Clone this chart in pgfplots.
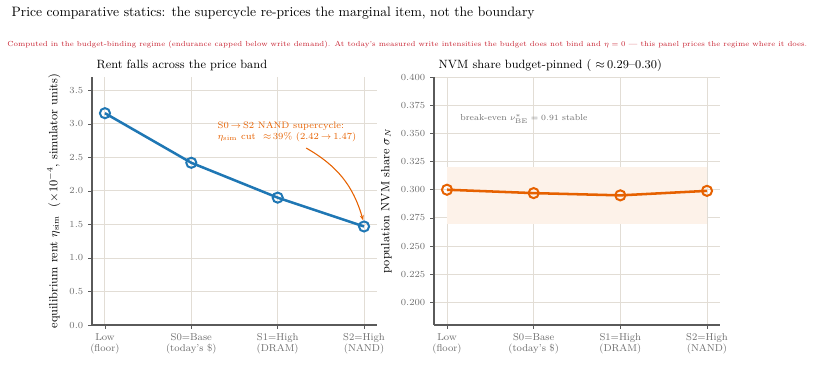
\documentclass[border=0pt]{standalone}
\usepackage{pgfplots}
\pgfplotsset{compat=1.18}
\usetikzlibrary{arrows.meta}

\definecolor{rentblue}{RGB}{31,119,180}
\definecolor{shareorange}{RGB}{230,97,0}
\definecolor{bandfill}{RGB}{253,242,233}
\definecolor{notered}{RGB}{200,35,50}
\definecolor{gridc}{RGB}{226,221,213}
\definecolor{tickgray}{RGB}{110,110,110}
\definecolor{spine}{RGB}{90,90,90}

% Rent per price scenario (x10^-4, simulator units)
\pgfplotstableread{
x  eta
0  3.16
1  2.42
2  1.90
3  1.47
}\renttable

% Population NVM share per price scenario
\pgfplotstableread{
x  share
0  0.300
1  0.297
2  0.295
3  0.299
}\sharetable

\pgfplotsset{
  panel/.style={
    scale only axis,
    axis x line*=bottom, axis y line*=left,
    axis line style={spine, line width=0.8pt, -},
    xmin=-0.15, xmax=3.15,
    xtick={0,1,2,3},
    xticklabels={{Low\\(floor)},{S0=Base\\(today's \$)},{S1=High\\(DRAM)},{S2=High\\(NAND)}},
    x tick label style={align=center, font=\fontsize{7.5}{8}\selectfont, text=tickgray},
    y tick label style={font=\fontsize{7.5}{8}\selectfont, text=tickgray},
    tick align=outside, major tick length=3pt,
    tick style={spine, line width=0.6pt},
    grid=major, major grid style={gridc, line width=0.7pt},
    ylabel style={font=\fontsize{9}{10}\selectfont},
    clip=false,
  }
}

\begin{document}
\begin{tikzpicture}
\path[use as bounding box] (0,0) rectangle (624.75pt,288.75pt);

% Left panel: rent across the price band
\begin{axis}[panel,
  at={(69pt,45pt)}, anchor=south west,
  width=213.75pt, height=186pt,
  ymin=0, ymax=3.7,
  ytick={0,0.5,...,3.5},
  yticklabel style={/pgf/number format/fixed, /pgf/number format/precision=1, /pgf/number format/fixed zerofill},
  ylabel={equilibrium rent $\eta_{\mathrm{sim}}$ \ ($\times10^{-4}$, simulator units)},
]
\addplot[rentblue, line width=1.9pt, mark=o, mark size=3.8pt,
  mark options={fill=white, line width=1.5pt}] table[x=x, y=eta] {\renttable};
\node[anchor=west, align=left, text=shareorange, font=\fontsize{7}{8.5}\selectfont]
  at (axis cs:1.25,2.885) {S0$\,\to\,$S2 NAND supercycle:\\$\eta_{\mathrm{sim}}$ cut \ $\approx$\,39\% (2.42$\,\to\,$1.47)};
\draw[-{Stealth[length=4pt]}, shareorange, line width=0.8pt]
  (axis cs:2.33,2.64) to[bend left=22] (axis cs:2.99,1.56);
\end{axis}

% Right panel: NVM share, pinned by the budget
\begin{axis}[panel,
  at={(325.5pt,45pt)}, anchor=south west,
  width=214.5pt, height=186pt,
  ymin=0.18, ymax=0.40,
  ytick={0.2,0.225,...,0.4},
  yticklabel style={/pgf/number format/fixed, /pgf/number format/precision=3, /pgf/number format/fixed zerofill},
  ylabel={population NVM share $\sigma_N$},
]
\addplot[draw=none, fill=bandfill, forget plot] coordinates {(0,0.27) (3,0.27) (3,0.32) (0,0.32)} -- cycle;
\addplot[shareorange, line width=1.9pt, mark=o, mark size=3.8pt,
  mark options={fill=white, line width=1.5pt}] table[x=x, y=share] {\sharetable};
\node[anchor=west, text=tickgray, font=\fontsize{6.5}{8}\selectfont]
  at (axis cs:0.1,0.3628) {break-even $\nu^{*}_{\mathrm{BE}}=0.91$ stable};
\end{axis}

% Titles and note
\node[anchor=west, font=\fontsize{10.2}{12}\selectfont] at (5.25pt,279pt)
  {Price comparative statics: the supercycle re-prices the marginal item, not the boundary};
\node[anchor=west, text=notered, inner xsep=0pt] at (5.25pt,255pt)
  {\resizebox{600pt}{!}{\fontsize{6}{7}\selectfont Computed in the budget-binding regime (endurance capped below write demand). At today's measured write intensities the budget does not bind and $\eta=0$ --- this panel prices the regime where it does.}};
\node[anchor=west, font=\fontsize{9}{11}\selectfont] at (69pt,240pt)
  {Rent falls across the price band};
\node[anchor=west, font=\fontsize{9}{11}\selectfont] at (325.5pt,240pt)
  {NVM share budget-pinned ( $\approx$\,0.29--0.30)};
\end{tikzpicture}
\end{document}
